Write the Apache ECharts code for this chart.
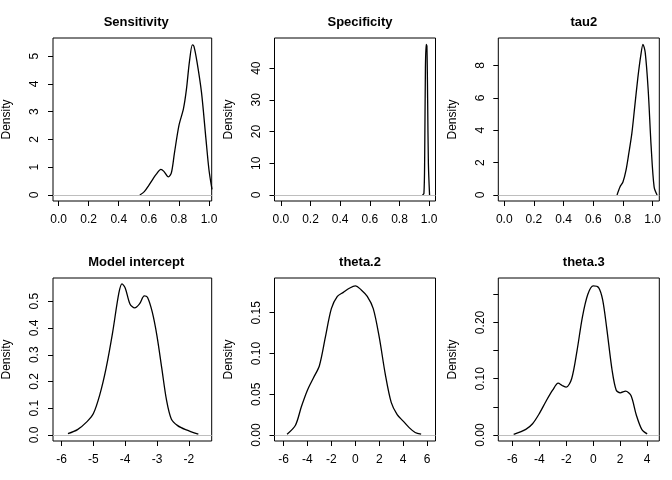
<!DOCTYPE html>
<html lang="en">
  <head>
    <meta charset="UTF-8" />
    <title>Density plots</title>
    <style>
      html, body { margin: 0; background: #fff; }
      #main { width: 672px; height: 480px; }
    </style>
  </head>
  <body>
    <div id="main"></div>
    <script src="https://cdn.jsdelivr.net/npm/echarts@6/dist/echarts.min.js"></script>
    <script>
      // density curves: [x, density]
      const sensitivity = [[0.54,0],[0.57,0.12],[0.6,0.35],[0.63,0.6],[0.65,0.75],[0.68,0.92],[0.7,0.85],[0.73,0.65],[0.75,0.8],[0.77,1.5],[0.8,2.5],[0.83,3.1],[0.85,3.8],[0.87,4.8],[0.89,5.4],[0.9,5.35],[0.92,4.8],[0.95,3.7],[0.98,2.0],[1.0,0.9],[1.02,0.2]];
      const specificity = [[0.955,0],[0.965,0.5],[0.97,12],[0.975,40],[0.98,47.5],[0.985,47],[0.99,30],[0.995,10],[1.003,0]];
      const tau2 = [[0.76,0],[0.78,0.5],[0.8,0.8],[0.82,1.5],[0.84,2.6],[0.86,3.8],[0.88,5.5],[0.9,7.2],[0.92,8.6],[0.935,9.3],[0.95,8.8],[0.97,6.5],[0.99,3],[1.01,0.5],[1.03,0]];
      const intercept = [[-5.8,0.005],[-5.5,0.02],[-5.2,0.05],[-5.0,0.08],[-4.8,0.15],[-4.6,0.25],[-4.4,0.38],[-4.2,0.53],[-4.1,0.565],[-4.0,0.55],[-3.85,0.49],[-3.7,0.475],[-3.55,0.49],[-3.4,0.52],[-3.3,0.515],[-3.15,0.46],[-3.0,0.37],[-2.85,0.25],[-2.7,0.13],[-2.55,0.06],[-2.35,0.035],[-2.1,0.02],[-1.7,0.003]];
      const theta2 = [[-5.7,0.001],[-5,0.012],[-4.5,0.035],[-4,0.055],[-3.5,0.07],[-3,0.085],[-2.5,0.12],[-2,0.155],[-1.5,0.17],[-1,0.175],[-0.5,0.18],[0,0.183],[0.5,0.178],[1,0.17],[1.5,0.155],[2,0.12],[2.5,0.075],[3,0.04],[3.5,0.025],[4,0.017],[4.5,0.009],[5,0.003],[5.5,0.001]];
      const theta3 = [[-5.9,0.001],[-5,0.01],[-4.5,0.02],[-4,0.038],[-3.5,0.06],[-3,0.08],[-2.6,0.092],[-2.3,0.088],[-2,0.085],[-1.6,0.1],[-1.2,0.15],[-0.8,0.21],[-0.4,0.25],[0,0.265],[0.4,0.262],[0.7,0.24],[1,0.19],[1.4,0.115],[1.7,0.08],[2,0.075],[2.4,0.078],[2.8,0.07],[3.2,0.035],[3.6,0.01],[4,0.002]];

      const titles = ["Sensitivity", "Specificity", "tau2", "Model intercept", "theta.2", "theta.3"];
      const curves = [sensitivity, specificity, tau2, intercept, theta2, theta3];
      const xRanges = [[-0.037,1.018],[-0.043,1.043],[-0.04,1.045],[-6.27,-1.28],[-6.75,6.7],[-7.04,4.9]];
      const yRanges = [[-0.216,5.65],[-1.9,49.5],[-0.37,9.69],[-0.0225,0.587],[-0.0074,0.1926],[-0.0107,0.279]];
      const xTicks = [[0,0.2,0.4,0.6,0.8,1],[0,0.2,0.4,0.6,0.8,1],[0,0.2,0.4,0.6,0.8,1],[-6,-5,-4,-3,-2],[-6,-4,-2,0,2,4,6],[-6,-4,-2,0,2,4]];
      const yTicks = [[0,1,2,3,4,5],[0,10,20,30,40],[0,2,4,6,8],[0,0.1,0.2,0.3,0.4,0.5],[0,0.05,0.1,0.15],[0,0.05,0.1,0.15,0.2,0.25]];
      const yLabels = [[0,1,2,3,4,5],[0,10,20,30,40],[0,2,4,6,8],[0,0.1,0.2,0.3,0.4,0.5],[0,0.05,0.1,0.15],[0,0.1,0.2]];
      const xDigits = [1,1,1,0,0,0];
      const yDigits = [0,0,0,1,2,2];

      const font = "Liberation Sans, Arial, sans-serif";
      const chart = echarts.init(document.getElementById("main"));
      const grid = [], xAxis = [], yAxis = [], series = [], title = [];

      for (let i = 0; i < 6; i++) {
        const col = i % 3, row = Math.floor(i / 3);
        const left = 50.7 + col * 223.8, top = row ? 278 : 38;
        grid.push({ left: left, top: top, width: 161, height: 163, show: true, borderColor: "#000", borderWidth: 1 });
        title.push({ text: titles[i], left: left + 80.5, top: top - 27, textAlign: "center",
          textStyle: { fontFamily: font, fontSize: 13, fontWeight: "bold", color: "#000" } });
        xAxis.push({
          type: "value", gridIndex: i, min: xRanges[i][0], max: xRanges[i][1],
          splitLine: { show: false }, axisLine: { show: false, onZero: false },
          axisTick: { show: true, length: 5, lineStyle: { color: "#000" }, customValues: xTicks[i] },
          axisLabel: { customValues: xTicks[i], margin: 13, color: "#000", fontFamily: font, fontSize: 12,
            formatter: v => v.toFixed(xDigits[i]) }
        });
        yAxis.push({
          type: "value", gridIndex: i, min: yRanges[i][0], max: yRanges[i][1],
          name: "Density", nameLocation: "middle", nameGap: 40, nameRotate: 90,
          nameTextStyle: { fontFamily: font, fontSize: 12, color: "#000" },
          splitLine: { show: false }, axisLine: { show: false, onZero: false },
          axisTick: { show: true, length: 5, lineStyle: { color: "#000" }, customValues: yTicks[i] },
          axisLabel: { customValues: yLabels[i], rotate: 90, margin: 12, color: "#000", fontFamily: font, fontSize: 12,
            formatter: v => v.toFixed(yDigits[i]) }
        });
        series.push({
          type: "line", xAxisIndex: i, yAxisIndex: i, data: curves[i], smooth: 0.3,
          showSymbol: false, clip: true, lineStyle: { color: "#000", width: 1.3 },
          markLine: { silent: true, symbol: "none", label: { show: false },
            lineStyle: { color: "#bebebe", type: "solid", width: 1.2 }, data: [{ yAxis: 0 }] },
          z: 3
        });
      }

      chart.setOption({ animation: false, title, grid, xAxis, yAxis, series });
    </script>
  </body>
</html>
